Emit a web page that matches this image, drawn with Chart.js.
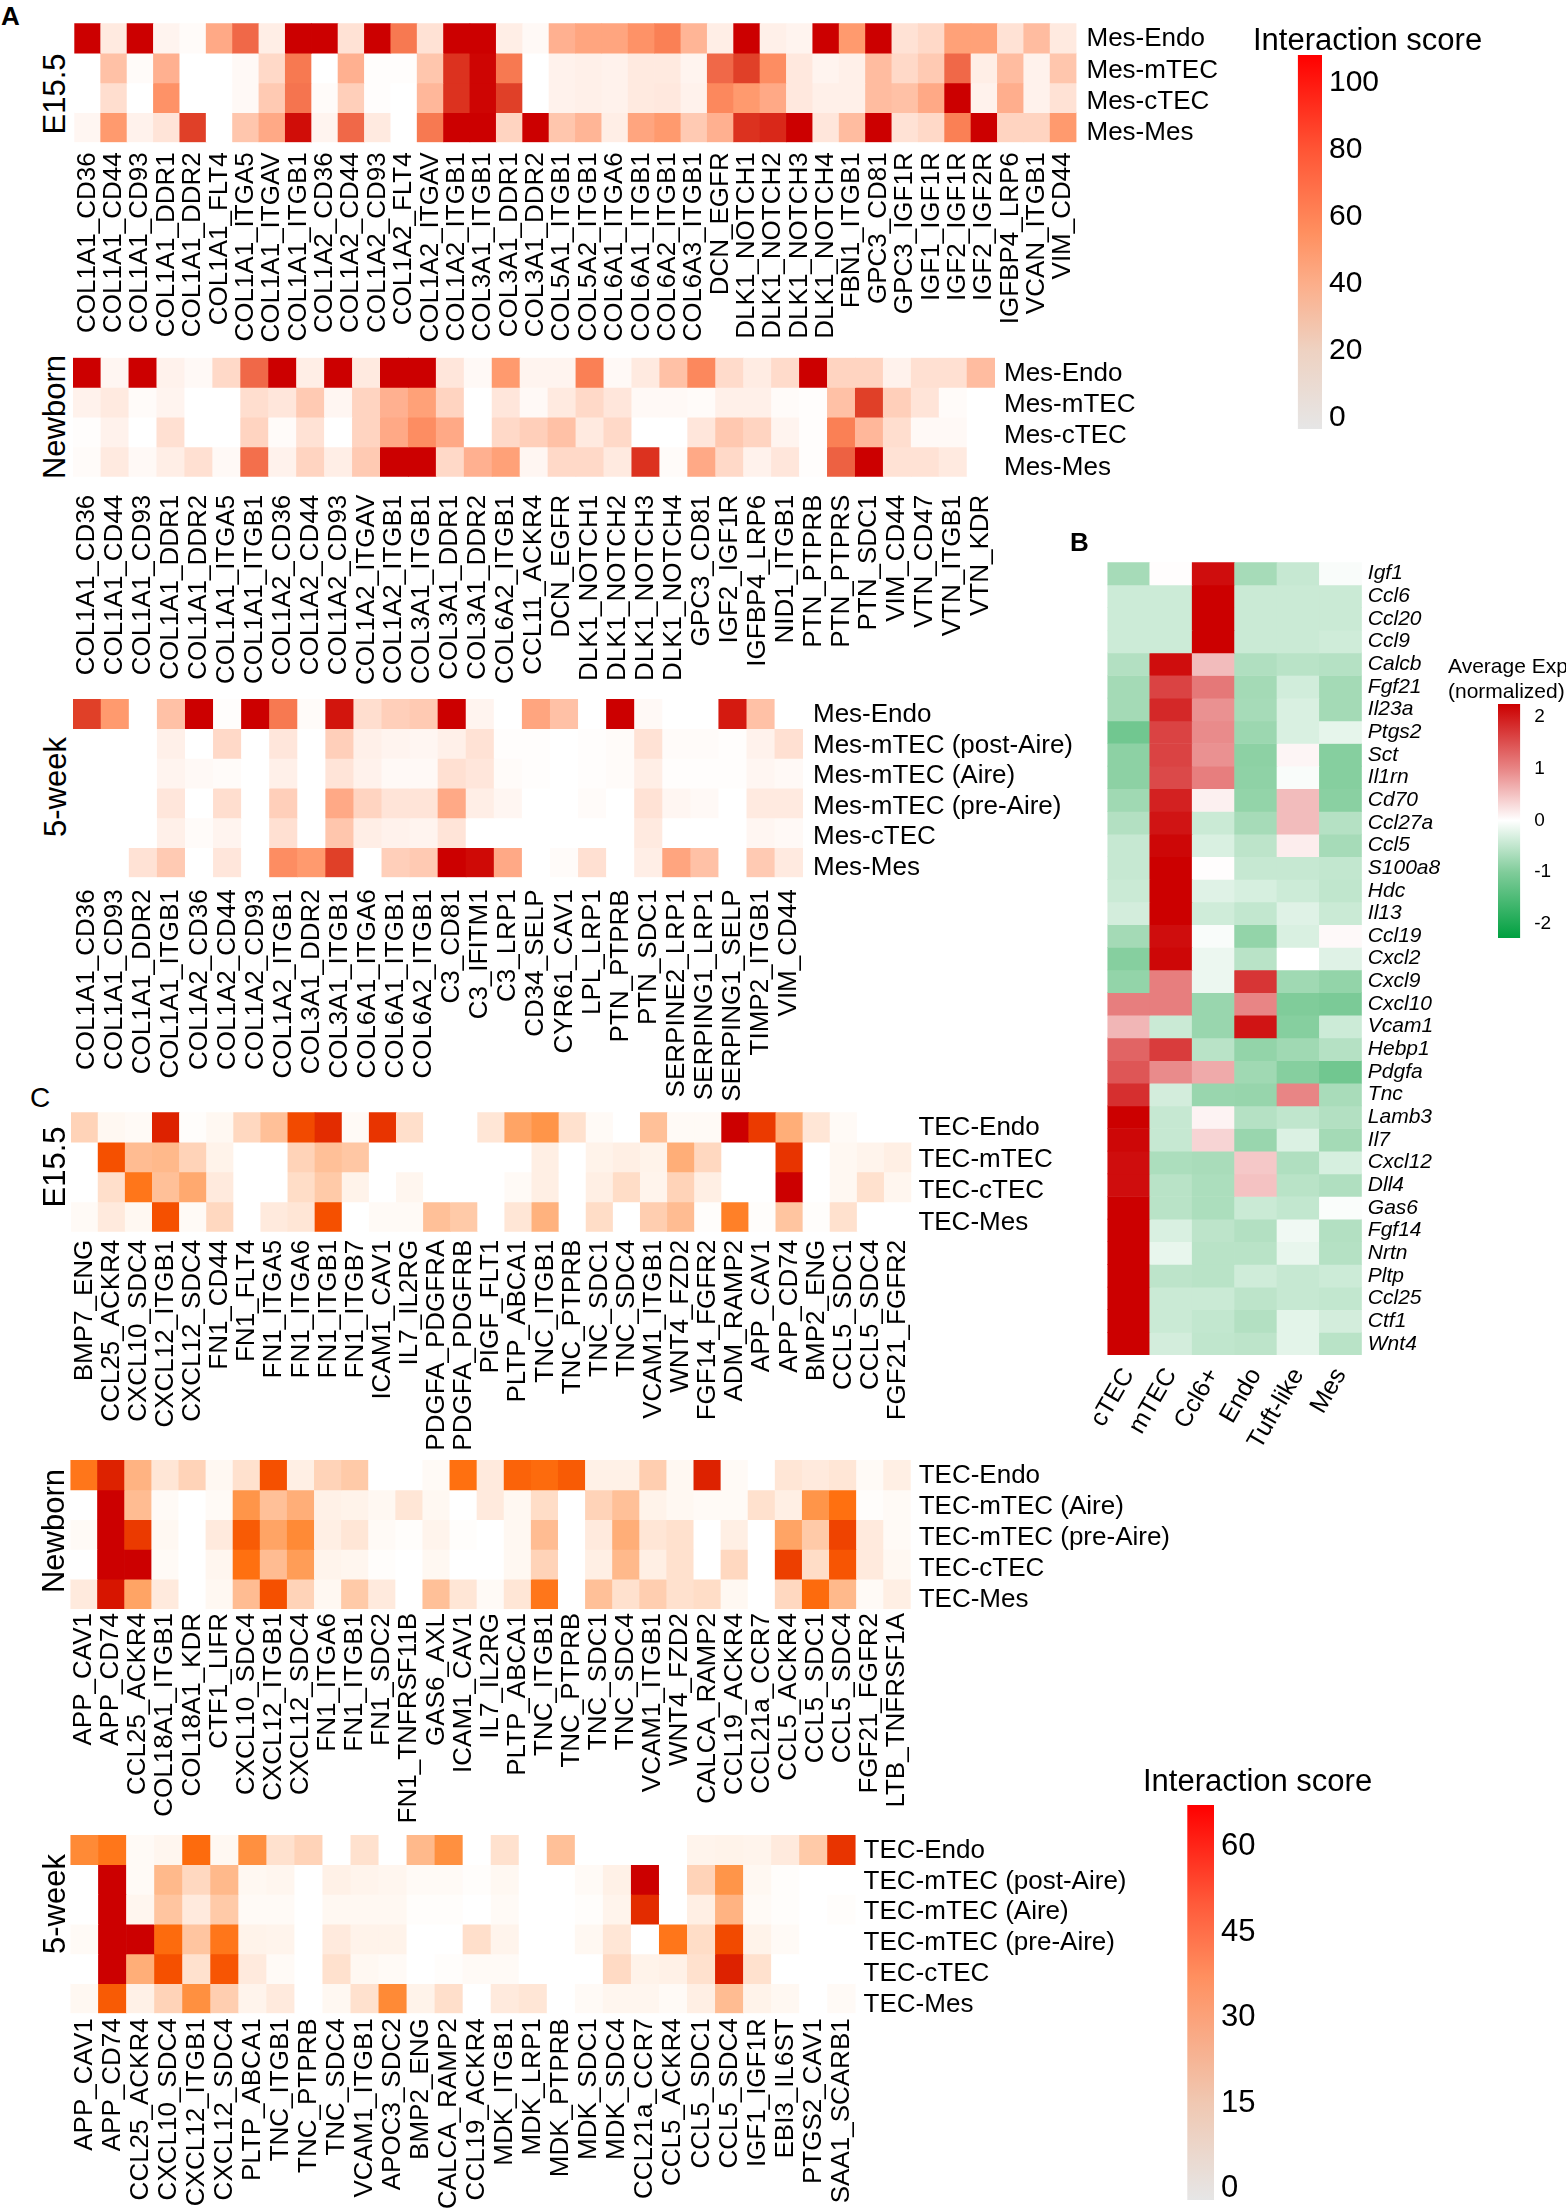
<!DOCTYPE html>
<html><head><meta charset="utf-8">
<script src="https://cdn.jsdelivr.net/npm/chart.js@4"></script>
<style>
html,body{margin:0;padding:0;background:#fff;width:1566px;height:2208px;overflow:hidden}
#page{position:relative;width:1566px;height:2208px;overflow:hidden;font-family:"Liberation Sans",Arial,sans-serif;color:#000}
canvas{position:absolute}
.t{position:absolute;white-space:nowrap;line-height:1}
.r{transform:translate(-50%,-50%) rotate(-90deg);font-size:31px}
</style></head><body><div id="page"></div>
<script>
// ---------- Panel A, E15.5 ----------
const aE15Cols=["COL1A1_CD36","COL1A1_CD44","COL1A1_CD93","COL1A1_DDR1","COL1A1_DDR2","COL1A1_FLT4","COL1A1_ITGA5","COL1A1_ITGAV","COL1A1_ITGB1","COL1A2_CD36","COL1A2_CD44","COL1A2_CD93","COL1A2_FLT4","COL1A2_ITGAV","COL1A2_ITGB1","COL3A1_ITGB1","COL3A1_DDR1","COL3A1_DDR2","COL5A1_ITGB1","COL5A2_ITGB1","COL6A1_ITGA6","COL6A1_ITGB1","COL6A2_ITGB1","COL6A3_ITGB1","DCN_EGFR","DLK1_NOTCH1","DLK1_NOTCH2","DLK1_NOTCH3","DLK1_NOTCH4","FBN1_ITGB1","GPC3_CD81","GPC3_IGF1R","IGF1_IGF1R","IGF2_IGF1R","IGF2_IGF2R","IGFBP4_LRP6","VCAN_ITGB1","VIM_CD44"];
const aE15Rows=["Mes-Endo","Mes-mTEC","Mes-cTEC","Mes-Mes"];
const aE15Vals=[
[100,10,100,5,2,38,65,8,100,100,14,100,58,14,100,100,8,3,35,40,40,48,55,33,8,100,7,5,100,45,100,14,18,42,42,14,30,10],
[0,28,2,35,0,0,3,18,58,0,35,1,1,26,85,98,58,0,6,7,6,10,10,5,65,82,50,11,5,7,30,18,24,65,8,30,6,26],
[0,16,0,48,0,0,3,24,60,2,22,1,0,32,85,98,82,0,6,7,6,10,11,6,52,45,38,11,7,7,30,28,38,100,6,36,6,14],
[4,45,6,13,82,0,26,38,95,5,65,10,0,58,100,100,20,100,26,33,8,40,45,24,35,85,87,100,12,30,100,14,18,55,100,20,20,45]];
// ---------- Panel A, Newborn ----------
const aNewCols=["COL1A1_CD36","COL1A1_CD44","COL1A1_CD93","COL1A1_DDR1","COL1A1_DDR2","COL1A1_ITGA5","COL1A1_ITGB1","COL1A2_CD36","COL1A2_CD44","COL1A2_CD93","COL1A2_ITGAV","COL1A2_ITGB1","COL3A1_ITGB1","COL3A1_DDR1","COL3A1_DDR2","COL6A2_ITGB1","CCL11_ACKR4","DCN_EGFR","DLK1_NOTCH1","DLK1_NOTCH2","DLK1_NOTCH3","DLK1_NOTCH4","GPC3_CD81","IGF2_IGF1R","IGFBP4_LRP6","NID1_ITGB1","PTN_PTPRB","PTN_PTPRS","PTN_SDC1","VIM_CD44","VTN_CD47","VTN_ITGB1","VTN_KDR"];
const aNewRows=["Mes-Endo","Mes-mTEC","Mes-cTEC","Mes-Mes"];
const aNewVals=[
[100,4,100,6,3,18,65,100,8,100,10,100,100,12,3,45,5,5,55,3,10,28,52,17,9,17,100,20,20,6,15,15,30],
[6,10,2,5,0,0,16,12,24,4,20,35,42,20,0,12,3,10,18,12,3,3,2,7,7,2,1,28,82,22,13,2,0],
[1,6,0,15,0,0,20,2,14,0,20,38,50,38,0,18,22,28,10,18,0,0,12,25,20,5,1,55,32,16,3,3,0],
[2,10,3,8,15,3,62,6,20,8,24,100,100,18,35,42,4,18,18,10,85,2,38,18,6,12,1,68,100,14,14,10,0]];
// ---------- Panel A, 5-week ----------
const aWeekCols=["COL1A1_CD36","COL1A1_CD93","COL1A1_DDR2","COL1A1_ITGB1","COL1A2_CD36","COL1A2_CD44","COL1A2_CD93","COL1A2_ITGB1","COL3A1_DDR2","COL3A1_ITGB1","COL6A1_ITGA6","COL6A1_ITGB1","COL6A2_ITGB1","C3_CD81","C3_IFITM1","C3_LRP1","CD34_SELP","CYR61_CAV1","LPL_LRP1","PTN_PTPRB","PTN_SDC1","SERPINE2_LRP1","SERPING1_LRP1","SERPING1_SELP","TIMP2_ITGB1","VIM_CD44"];
const aWeekRows=["Mes-Endo","Mes-mTEC (post-Aire)","Mes-mTEC (Aire)","Mes-mTEC (pre-Aire)","Mes-cTEC","Mes-Mes"];
const aWeekVals=[
[82,45,0,28,100,1,100,58,2,92,16,22,24,100,5,0,40,28,0,100,3,0,0,90,28,0],
[0,0,0,7,0,18,0,12,0,22,7,5,4,7,14,1,1,0,1,2,14,2,2,1,6,15],
[0,0,0,5,3,2,0,7,0,13,6,3,3,15,12,2,1,0,1,2,8,1,1,1,4,3],
[0,0,0,12,0,16,0,22,0,38,20,13,13,38,8,4,0,0,2,0,14,4,3,0,10,10],
[0,0,0,7,2,5,0,15,0,26,8,6,5,13,0,0,0,0,0,0,10,0,0,0,4,3],
[0,0,14,24,0,12,0,50,45,82,0,22,24,100,96,38,0,2,15,0,8,40,28,0,24,10]];
// ---------- Panel C, E15.5 ----------
const cE15Cols=["BMP7_ENG","CCL25_ACKR4","CXCL10_SDC4","CXCL12_ITGB1","CXCL12_SDC4","FN1_CD44","FN1_FLT4","FN1_ITGA5","FN1_ITGA6","FN1_ITGB1","FN1_ITGB7","ICAM1_CAV1","IL7_IL2RG","PDGFA_PDGFRA","PDGFA_PDGFRB","PIGF_FLT1","PLTP_ABCA1","TNC_ITGB1","TNC_PTPRB","TNC_SDC1","TNC_SDC4","VCAM1_ITGB1","WNT4_FZD2","FGF14_FGFR2","ADM_RAMP2","APP_CAV1","APP_CD74","BMP2_ENG","CCL5_SDC1","CCL5_SDC4","FGF21_FGFR2"];
const cE15Rows=["TEC-Endo","TEC-mTEC","TEC-cTEC","TEC-Mes"];
const cE15Vals=[
[20,3,2,92,1,3,18,28,75,88,2,85,15,0,0,12,42,48,14,2,0,28,2,2,100,82,38,12,2,0,0],
[0,72,30,32,20,6,0,0,20,28,25,0,0,0,0,0,0,8,0,6,8,6,38,18,0,0,85,0,3,5,8],
[0,15,58,28,40,10,0,0,16,24,6,0,4,0,0,0,2,8,0,8,16,5,20,8,0,0,100,0,3,14,4],
[2,10,3,72,2,18,0,10,12,72,0,2,2,28,24,0,12,36,0,16,0,22,30,1,55,1,26,1,14,0,0]];
// ---------- Panel C, Newborn ----------
const cNewCols=["APP_CAV1","APP_CD74","CCL25_ACKR4","COL18A1_ITGB1","COL18A1_KDR","CTF1_LIFR","CXCL10_SDC4","CXCL12_ITGB1","CXCL12_SDC4","FN1_ITGA6","FN1_ITGB1","FN1_SDC2","FN1_TNFRSF11B","GAS6_AXL","ICAM1_CAV1","IL7_IL2RG","PLTP_ABCA1","TNC_ITGB1","TNC_PTPRB","TNC_SDC1","TNC_SDC4","VCAM1_ITGB1","WNT4_FZD2","CALCA_RAMP2","CCL19_ACKR4","CCL21a_CCR7","CCL5_ACKR4","CCL5_SDC1","CCL5_SDC4","FGF21_FGFR2","LTB_TNFRSF1A"];
const cNewRows=["TEC-Endo","TEC-mTEC (Aire)","TEC-mTEC (pre-Aire)","TEC-cTEC","TEC-Mes"];
const cNewVals=[
[58,92,35,12,20,3,14,72,8,20,24,0,0,2,60,10,65,62,68,7,7,22,3,92,2,0,12,10,12,2,8],
[0,100,30,2,0,2,48,28,38,7,6,3,12,3,0,10,3,16,0,20,28,6,3,2,2,14,8,48,60,1,2],
[2,100,82,3,0,10,68,42,52,8,12,2,1,5,1,0,3,30,0,10,38,12,14,0,8,0,42,24,78,10,2],
[0,100,100,2,0,4,60,30,45,5,4,1,0,3,0,0,3,20,0,8,32,8,14,0,18,0,80,16,70,10,3],
[10,95,42,10,0,3,30,72,20,3,24,10,0,28,12,2,12,58,0,28,14,22,14,16,3,0,18,62,32,2,8]];
// ---------- Panel C, 5-week ----------
const cWeekCols=["APP_CAV1","APP_CD74","CCL25_ACKR4","CXCL10_SDC4","CXCL12_ITGB1","CXCL12_SDC4","PLTP_ABCA1","TNC_ITGB1","TNC_PTPRB","TNC_SDC4","VCAM1_ITGB1","APOC3_SDC2","BMP2_ENG","CALCA_RAMP2","CCL19_ACKR4","MDK_ITGB1","MDK_LRP1","MDK_PTPRB","MDK_SDC1","MDK_SDC4","CCL21a_CCR7","CCL5_ACKR4","CCL5_SDC1","CCL5_SDC4","IGF1_IGF1R","EBI3_IL6ST","PTGS2_CAV1","SAA1_SCARB1"];
const cWeekRows=["TEC-Endo","TEC-mTEC (post-Aire)","TEC-mTEC (Aire)","TEC-mTEC (pre-Aire)","TEC-cTEC","TEC-Mes"];
const cWeekVals=[
[52,58,2,4,62,3,50,14,20,0,14,0,32,50,0,14,0,28,0,0,0,0,5,6,5,10,24,85],
[0,100,2,32,18,32,3,4,0,7,5,4,2,2,1,3,0,0,2,7,100,0,20,48,3,1,0,0],
[0,100,4,26,10,24,2,2,0,3,3,3,1,1,0,2,0,0,1,5,88,0,8,35,2,1,0,1],
[2,100,100,62,26,58,6,5,0,10,6,6,0,0,15,5,0,0,3,12,0,58,16,75,6,2,0,0],
[0,100,38,72,14,70,10,2,0,14,3,2,0,1,2,2,0,0,0,17,6,7,14,92,14,0,0,0],
[3,68,7,20,50,22,5,10,0,3,14,52,6,15,0,10,12,0,2,4,4,2,8,30,6,3,0,2]];
// ---------- Panel B ----------
const bCols=["cTEC","mTEC","Ccl6+","Endo","Tuft-like","Mes"];
const bRows=["Igf1","Ccl6","Ccl20","Ccl9","Calcb","Fgf21","Il23a","Ptgs2","Sct","Il1rn","Cd70","Ccl27a","Ccl5","S100a8","Hdc","Il13","Ccl19","Cxcl2","Cxcl9","Cxcl10","Vcam1","Hebp1","Pdgfa","Tnc","Lamb3","Il7","Cxcl12","Dll4","Gas6","Fgf14","Nrtn","Pltp","Ccl25","Ctf1","Wnt4"];
const bVals=[
[-0.7,0.02,1.9,-0.7,-0.45,-0.05],[-0.4,-0.4,2,-0.42,-0.42,-0.42],[-0.4,-0.4,2,-0.42,-0.42,-0.42],[-0.4,-0.4,2,-0.42,-0.42,-0.38],
[-0.6,1.9,0.55,-0.62,-0.55,-0.58],[-0.72,1.5,1.1,-0.72,-0.36,-0.72],[-0.72,1.7,0.9,-0.7,-0.3,-0.72],[-1.15,1.5,0.95,-0.78,-0.3,-0.2],
[-0.9,1.5,0.9,-0.9,0.08,-0.95],[-0.9,1.45,1.05,-0.88,-0.05,-0.95],[-0.75,1.75,0.12,-0.85,0.55,-0.92],[-0.6,1.85,-0.42,-0.7,0.55,-0.58],
[-0.45,1.95,-0.3,-0.52,0.15,-0.7],[-0.45,2,0.02,-0.45,-0.45,-0.48],[-0.42,2,-0.25,-0.32,-0.4,-0.5],[-0.35,2,-0.38,-0.48,-0.25,-0.42],
[-0.72,1.9,-0.05,-0.85,-0.3,0.05],[-0.95,1.95,-0.15,-0.55,0,-0.25],[-0.85,1.05,-0.15,1.6,-0.75,-0.85],[1.05,1.05,-0.8,1.0,-1.0,-1.05],
[0.6,-0.42,-0.8,1.85,-0.95,-0.4],[1.25,1.55,-0.55,-0.85,-0.75,-0.58],[1.35,0.95,0.7,-0.75,-0.95,-1.15],[1.65,-0.35,-0.8,-0.82,1.0,-0.68],
[2,-0.45,0.1,-0.58,-0.5,-0.6],[1.95,-0.45,0.35,-0.8,-0.28,-0.72],[1.9,-0.65,-0.68,0.45,-0.62,-0.32],[1.9,-0.55,-0.65,0.5,-0.55,-0.62],
[2,-0.55,-0.65,-0.42,-0.48,-0.04],[2,-0.3,-0.52,-0.6,-0.12,-0.6],[2,-0.18,-0.55,-0.55,-0.18,-0.58],[2,-0.52,-0.55,-0.38,-0.45,-0.4],
[2,-0.42,-0.42,-0.52,-0.45,-0.48],[2,-0.42,-0.48,-0.6,-0.22,-0.35],[2,-0.35,-0.5,-0.52,-0.22,-0.55]];
// ---------- Colour bars ----------
const barATicks=[0,20,40,60,80,100];
const barBTicks=[-2,-1,0,1,2];
const barCTicks=[0,15,30,45,60];

// colour ramps (value, colour)
const rampMes=[[0,'#ffffff'],[6,'#fff2ec'],[15,'#ffe0d2'],[25,'#ffc8b0'],[35,'#ffb090'],[45,'#ff9a6e'],[55,'#fa8055'],[65,'#f06848'],[82,'#e04028'],[90,'#d41a10'],[100,'#cc0000']];
const rampTec=[[0,'#ffffff'],[3,'#fff8f2'],[8,'#ffefe4'],[18,'#ffd8c0'],[28,'#ffc098'],[38,'#ffae78'],[50,'#ff9040'],[60,'#ff7010'],[72,'#f55000'],[85,'#e83400'],[92,'#dd2200'],[100,'#cc0000']];
const rampExpr=[[-2.3,'#00a040'],[-1,'#80cc9a'],[0,'#ffffff'],[1,'#e88585'],[2,'#cc0000']];
const gradA=[[-3.3,'#e6e6e6'],[20,'#eed2c2'],[40,'#fcae8a'],[55,'#ff9060'],[80,'#ff5535'],[108.3,'#ff0000']];
const gradC=[[-2,'#e6e6e6'],[15,'#f0c8b2'],[30,'#fba27a'],[37,'#ff9060'],[50,'#ff5a3a'],[67.3,'#ff0000']];
const gradB=[[-2.27,'#00a040'],[-1,'#80cc9a'],[0,'#ffffff'],[1,'#e88585'],[2.25,'#cc0000']];

const page=document.getElementById('page');
const FONT='"Liberation Sans", Arial, sans-serif';
Chart.defaults.devicePixelRatio=1;

function hex(c){return [1,3,5].map(i=>parseInt(c.substr(i,2),16));}
function colorFor(ramp,v){
  if(v<=ramp[0][0])return ramp[0][1];
  for(let i=1;i<ramp.length;i++){
    if(v<=ramp[i][0]){
      const t=(v-ramp[i-1][0])/(ramp[i][0]-ramp[i-1][0]),a=hex(ramp[i-1][1]),b=hex(ramp[i][1]);
      return 'rgb('+a.map((x,k)=>Math.round(x+(b[k]-x)*t)).join(',')+')';
    }
  }
  return ramp[ramp.length-1][1];
}
function zeroPad(s){s.paddingTop=s.paddingBottom=s.paddingLeft=s.paddingRight=0;}
function mount(x,y,w,h){
  const c=document.createElement('canvas');
  c.width=w;c.height=h;c.style.left=x+'px';c.style.top=y+'px';c.style.width=w+'px';c.style.height=h+'px';
  page.appendChild(c);return c;
}
function heatmap(g){
  const {cols,rows,vals,ramp,L,R,T,B}=g;
  const padL=g.padL||0, axisH=g.axisH||280, labW=g.labW||360;
  const spread=g.spread===undefined?0.055:g.spread;
  const cx=Math.floor(L)-padL, cy=Math.floor(T);
  const w=Math.ceil(R)-cx+labW, h=Math.ceil(B)-cy+axisH;
  const c=mount(cx,cy,w,h);
  new Chart(c,{type:'bar',
    data:{labels:cols,datasets:rows.map((r,i)=>({label:r,grouped:false,
      data:cols.map(()=>[i,i+1]),
      backgroundColor:vals[i].map(v=>colorFor(ramp,v)),
      barPercentage:1,categoryPercentage:1,borderWidth:0}))},
    options:{responsive:false,animation:false,events:[],
      layout:{padding:{left:L-cx,top:T-cy,right:0,bottom:0}},
      plugins:{legend:{display:false},tooltip:{enabled:false},title:{display:false}},
      scales:{
        x:{type:'category',offset:true,grid:{display:false,drawTicks:false},border:{display:false},
           ticks:{autoSkip:false,minRotation:g.rot||90,maxRotation:g.rot||90,padding:g.xPad,color:'#000',font:{family:FONT,size:g.xFont||26}},
           afterFit:s=>{s.height=h-(B-cy);zeroPad(s);}},
        y:{type:'linear',position:'right',reverse:true,min:0,max:rows.length,grid:{display:false,drawTicks:false},border:{display:false},
           afterBuildTicks:s=>{s.ticks=rows.map((r,i)=>({value:i+0.5+(spread?0.03+i*spread:0)}));},
           ticks:{autoSkip:false,padding:g.yPad,color:'#000',font:{family:FONT,size:g.yFont||26,style:g.yStyle||'normal'},callback:(v,i)=>rows[i]},
           afterFit:s=>{s.width=w-(R-cx);zeroPad(s);}}
      }}});
}
function colorbar(g){
  const {ticks,grad,L,R,T,B,lo,hi}=g;
  const labW=70, cx=Math.floor(L), cy=Math.floor(T);
  const w=Math.ceil(R)-cx+labW, h=Math.ceil(B)-cy+1;
  const c=mount(cx,cy,w,h);
  new Chart(c,{type:'bar',
    data:{labels:['score'],datasets:[{data:[[lo,hi]],barPercentage:1,categoryPercentage:1,borderWidth:0,
      backgroundColor:ctx=>{
        const ch=ctx.chart,y=ch.scales.y;
        if(!y||!ch.chartArea)return '#ccc';
        const gr=ch.ctx.createLinearGradient(0,y.getPixelForValue(lo),0,y.getPixelForValue(hi));
        grad.forEach(([v,col])=>gr.addColorStop((v-lo)/(hi-lo),col));
        return gr;
      }}]},
    options:{responsive:false,animation:false,events:[],
      layout:{padding:{left:L-cx,top:T-cy}},
      plugins:{legend:{display:false},tooltip:{enabled:false}},
      scales:{
        x:{display:false,offset:true,grid:{display:false}},
        y:{type:'linear',position:'right',min:lo,max:hi,grid:{display:false,drawTicks:false},border:{display:false},
           afterBuildTicks:s=>{s.ticks=ticks.map(v=>({value:v}));},
           ticks:{autoSkip:false,padding:g.pad,color:'#000',font:{family:FONT,size:g.font},callback:v=>String(v)},
           afterFit:s=>{s.width=w-(R-cx);zeroPad(s);}}
      }}});
}
function text(str,x,y,css,cls){
  const d=document.createElement('div');d.className='t '+(cls||'');d.textContent=str;
  d.style.left=x+'px';d.style.top=y+'px';
  if(css)Object.assign(d.style,css);page.appendChild(d);
}

heatmap({cols:aE15Cols,rows:aE15Rows,vals:aE15Vals,ramp:rampMes,L:74.3,R:1076.5,T:23.3,B:142.3,xPad:10,yPad:10});
heatmap({cols:aNewCols,rows:aNewRows,vals:aNewVals,ramp:rampMes,L:73,R:995,T:357.7,B:476.7,xPad:18,yPad:9});
heatmap({cols:aWeekCols,rows:aWeekRows,vals:aWeekVals,ramp:rampMes,L:73,R:803,T:699,B:877.3,xPad:12,yPad:10,spread:0.03});
heatmap({cols:cE15Cols,rows:cE15Rows,vals:cE15Vals,ramp:rampTec,L:71,R:911.4,T:1112.3,B:1231.7,xPad:8,yPad:7});
heatmap({cols:cNewCols,rows:cNewRows,vals:cNewVals,ramp:rampTec,L:70.4,R:910.7,T:1460,B:1609,xPad:4,yPad:8,spread:0.04});
heatmap({cols:cWeekCols,rows:cWeekRows,vals:cWeekVals,ramp:rampTec,L:70.4,R:855.6,T:1835,B:2013.3,xPad:5,yPad:8,axisH:194,spread:0.035});
heatmap({cols:bCols,rows:bRows,vals:bVals,ramp:rampExpr,L:1107.4,R:1361.8,T:562.3,B:1355,xPad:8,yPad:6,rot:60,xFont:25,yFont:21,yStyle:'italic',padL:50,axisH:140,labW:120,spread:0});

colorbar({ticks:barATicks,grad:gradA,L:1297.8,R:1322,T:55,B:427.7,lo:-3.3,hi:108.3,pad:7,font:30});
colorbar({ticks:barCTicks,grad:gradC,L:1187.3,R:1214,T:1805,B:2199,lo:-2,hi:67.3,pad:7,font:31});
colorbar({ticks:barBTicks,grad:gradB,L:1498,R:1520.2,T:704,B:936.7,lo:-2.27,hi:2.25,pad:14,font:19});

text('Interaction score',1253,24,{fontSize:'31px'});
text('Interaction score',1143,1765,{fontSize:'31px'});
text('Average Exp',1448,655,{fontSize:'21px'});
text('(normalized)',1448,680,{fontSize:'21px'});
text('A',1,3,{fontSize:'26px',fontWeight:'bold'});
text('B',1070,529,{fontSize:'26px',fontWeight:'bold'});
text('C',30,1084,{fontSize:'28px'});
text('E15.5',54,94,null,'r');
text('Newborn',54,417,null,'r');
text('5-week',55,787,null,'r');
text('E15.5',54,1167,null,'r');
text('Newborn',53,1531,null,'r');
text('5-week',54,1904,null,'r');
</script></body></html>
